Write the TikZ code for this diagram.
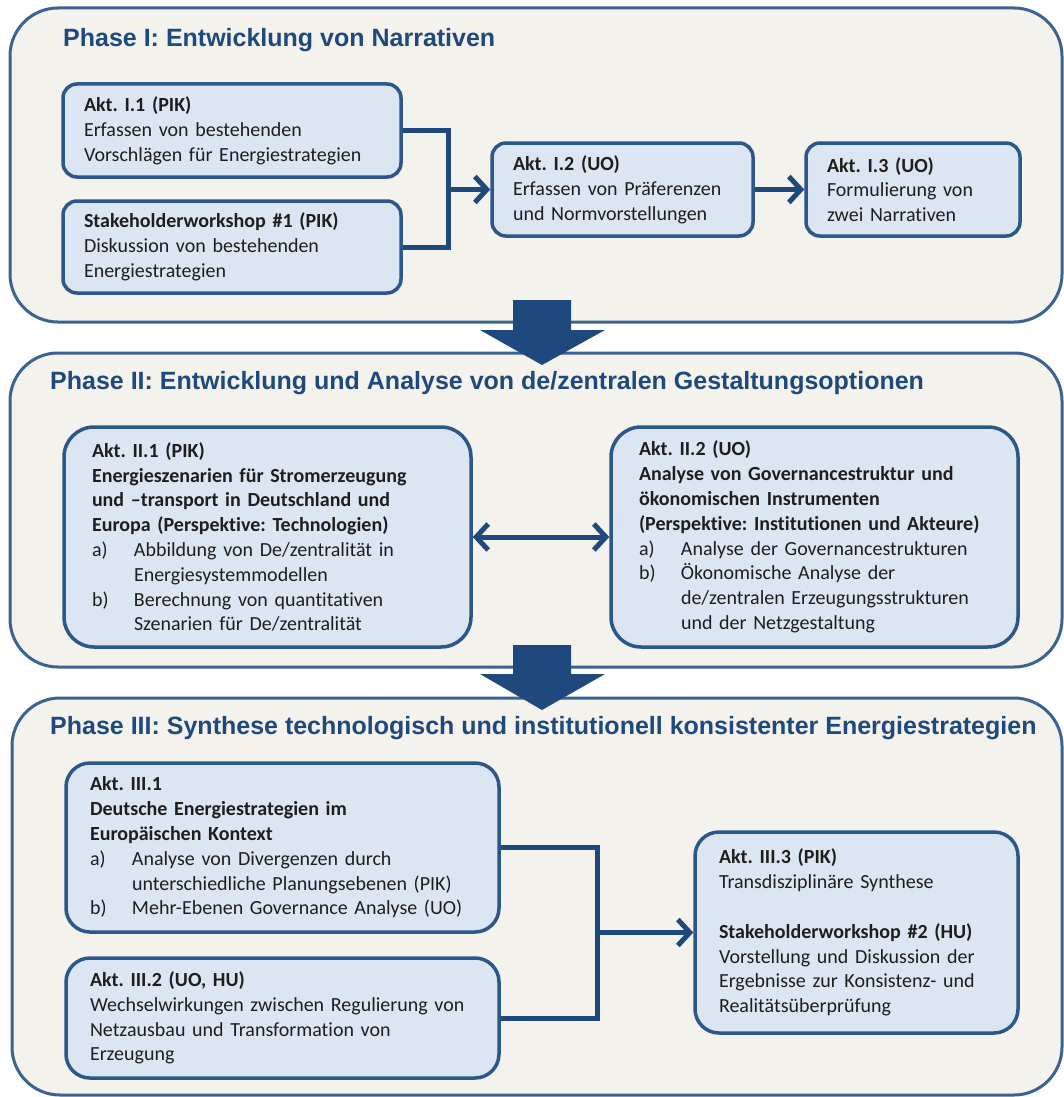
\documentclass[tikz,border=0pt]{standalone}
\usepackage{fontspec}
\setmainfont{Carlito}[Ligatures=CommonOff]
\newfontfamily\titlefont{Liberation Sans}
\usepackage{xcolor}
\usetikzlibrary{arrows.meta,positioning,calc}
\definecolor{phasefill}{HTML}{F3F2EC}
\definecolor{phaseline}{HTML}{3A6391}
\definecolor{boxfill}{HTML}{DCE6F2}
\definecolor{boxline}{HTML}{2B5789}
\definecolor{flowblue}{HTML}{1F497D}
\definecolor{bodytext}{HTML}{1E1E1E}
\newcommand{\actitem}[1]{\makebox[42pt][l]{#1}}
\newcommand{\actcont}{\hspace*{42pt}}
\frenchspacing
\tikzset{
  flowline/.style={line width=5pt, draw=flowblue},
  flowarr/.style={flowline, -{Straight Barb[length=12pt, width=26pt]}},
  flowboth/.style={flowline, {Straight Barb[length=12pt, width=26pt]}-{Straight Barb[length=12pt, width=26pt]}},
  actbox/.style={draw=boxline, fill=boxfill, line width=3.5pt, align=left, inner ysep=0pt,
    text=bodytext, font=\fontsize{20}{24.8}\selectfont},
}

\begin{document}
\begin{tikzpicture}[
  x=1pt, y=-1pt,
  phase/.style={draw=phaseline, fill=phasefill, line width=3pt, rounded corners=48pt, minimum width=1052pt},
  phasetitle/.style={anchor=west, inner sep=0pt, text=flowblue, font=\titlefont\bfseries\fontsize{25}{28}\selectfont},
  smallbox/.style={actbox, rounded corners=14pt, inner xsep=21pt},
  bigbox/.style={actbox, rounded corners=30pt, inner xsep=28pt, minimum height=220pt, text width=351pt},
  synbox/.style={actbox, rounded corners=24pt, inner xsep=24pt},
  blockarr/.style={fill=flowblue},
]
  \useasboundingbox (0,0) rectangle (1064,1097);

  % phase panels
  \node[phase, minimum height=314pt] (ph1) at (536,165) {};
  \node[phase, minimum height=314pt] (ph2) at (536,510) {};
  \node[phase, minimum height=397pt, minimum width=1050pt] (ph3) at (537,896.5) {};

  \node[phasetitle] (t1) at (63,40)  {Phase I: Entwicklung von Narrativen};
  \node[phasetitle] (t2) at (50,383) {Phase II: Entwicklung und Analyse von de/zentralen Gestaltungsoptionen};
  \node[phasetitle] (t3) at (50,728) {Phase III: Synthese technologisch und institutionell konsistenter Energiestrategien};

  % phase I
  \node[smallbox, text width=296pt, minimum height=93pt] (a11) at (232,130.5)
    {\textbf{Akt. I.1 (PIK)}\\Erfassen von bestehenden\\Vorschlägen für Energiestrategien};
  \node[smallbox, text width=296pt, minimum height=92pt] (sw1) at (232,247)
    {\textbf{Stakeholderworkshop \#1 (PIK)}\\Diskussion von bestehenden\\Energiestrategien};
  \node[smallbox, text width=219pt, minimum height=93pt] (a12) at (622.5,189.5)
    {\textbf{Akt. I.2 (UO)}\\Erfassen von Präferenzen\\und Normvorstellungen};
  \node[smallbox, text width=172pt, minimum height=93pt] (a13) at (913,189.5)
    {\textbf{Akt. I.3 (UO)}\\Formulierung von\\zwei Narrativen};

  \coordinate (j1) at (448,189.5);
  \draw[flowline] (a11.east) -| (j1) |- (sw1.east);
  \draw[flowarr] (j1) -- (a12);
  \draw[flowarr] (a12) -- (a13);

  % phase II
  \node[bigbox] (a21) at (267.5,537)
    {\textbf{Akt. II.1 (PIK)}\\\textbf{Energieszenarien für Stromerzeugung}\\\textbf{und –transport in Deutschland und}\\\textbf{Europa (Perspektive: Technologien)}\\
     \actitem{a)}Abbildung von De/zentralität in\\\actcont Energiesystemmodellen\\
     \actitem{b)}Berechnung von quantitativen\\\actcont Szenarien für De/zentralität};
  \node[bigbox] (a22) at (814.5,537)
    {\textbf{Akt. II.2 (UO)}\\\textbf{Analyse von Governancestruktur und}\\\textbf{ökonomischen Instrumenten}\\\textbf{(Perspektive: Institutionen und Akteure)}\\
     \actitem{a)}Analyse der Governancestrukturen\\
     \actitem{b)}Ökonomische Analyse der\\\actcont de/zentralen Erzeugungsstrukturen\\\actcont und der Netzgestaltung};

  \draw[flowboth] (a21) -- (a22);

  % phase III
  \node[synbox, text width=385pt, minimum height=169pt] (a31) at (282.5,847.5)
    {\textbf{Akt. III.1}\\\textbf{Deutsche Energiestrategien im}\\\textbf{Europäischen Kontext}\\
     \actitem{a)}Analyse von Divergenzen durch\\\actcont unterschiedliche Planungsebenen (PIK)\\
     \actitem{b)}Mehr-Ebenen Governance Analyse (UO)};
  \node[synbox, text width=385pt, minimum height=120pt] (a32) at (282.5,1018)
    {\textbf{Akt. III.2 (UO, HU)}\\Wechselwirkungen zwischen Regulierung von\\Netzausbau und Transformation von\\Erzeugung};
  \node[synbox, text width=275pt, minimum height=201pt] (a33) at (856.5,932.5)
    {\textbf{Akt. III.3 (PIK)}\\Transdisziplinäre Synthese\\[24.8pt]\textbf{Stakeholderworkshop \#2 (HU)}\\Vorstellung und Diskussion der\\Ergebnisse zur Konsistenz- und\\Realitätsüberprüfung};

  \coordinate (j3) at (597,932.5);
  \draw[flowline] (a31.east) -| (j3) |- (a32.east);
  \draw[flowarr] (j3) -- (a33);

  % block arrows between phases
  \fill[blockarr] (513,300) -- (571,300) -- (571,330) -- (605,330) -- (542,365) -- (480,330) -- (513,330) -- cycle;
  \fill[blockarr] (513,645) -- (571,645) -- (571,674) -- (605,674) -- (542,710) -- (480,674) -- (513,674) -- cycle;
\end{tikzpicture}
\end{document}
